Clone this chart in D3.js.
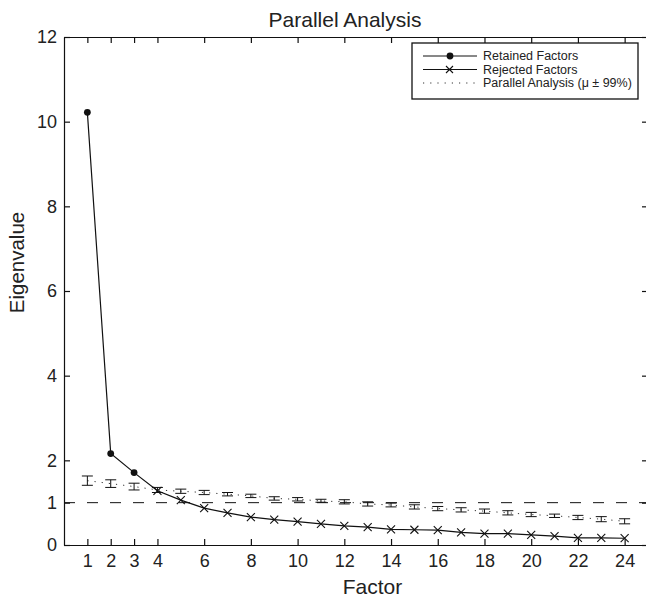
<!DOCTYPE html>
<html><head><meta charset="utf-8">
<script src="https://cdn.jsdelivr.net/npm/d3@7"></script>
<style>
body{margin:0;background:#fff;}
text{font-family:"Liberation Sans",Arial,Helvetica,sans-serif;fill:#222;}
</style></head>
<body><svg id="c" width="646" height="600"></svg>
<script>
const factors = d3.range(1, 25);
const eigenvalues = [10.22,2.16,1.71,1.28,1.06,0.87,0.76,0.66,0.60,0.55,0.50,0.45,0.42,0.37,0.36,0.35,0.30,0.27,0.27,0.24,0.21,0.17,0.17,0.16];
const retainedCount = 3;
const paMean  = [1.52,1.45,1.38,1.30,1.27,1.24,1.20,1.16,1.10,1.08,1.04,1.02,0.97,0.945,0.90,0.86,0.83,0.80,0.76,0.72,0.69,0.65,0.61,0.56];
const paUpper = [1.63,1.54,1.46,1.36,1.32,1.29,1.24,1.20,1.14,1.12,1.08,1.07,1.02,0.99,0.95,0.91,0.88,0.85,0.81,0.77,0.73,0.70,0.67,0.62];
const paLower = [1.41,1.36,1.30,1.24,1.22,1.19,1.16,1.12,1.06,1.04,1.01,0.97,0.92,0.90,0.85,0.81,0.78,0.75,0.71,0.67,0.65,0.60,0.55,0.50];
const xTicks = [1,2,3,4,6,8,10,12,14,16,18,20,22,24];
const yTicks = [0,1,2,4,6,8,10,12];
const threshold = 1;
const legendLabels = ["Retained Factors","Rejected Factors","Parallel Analysis (\u03bc \u00b1 99%)"];

const svg = d3.select("#c");
const L = 64, R = 648, T = 37, B = 545;
const x = d3.scaleLinear().domain([0,25]).range([L,R]);
const y = d3.scaleLinear().domain([0,12]).range([B,T]);

// axes
const ax = svg.append("g");
const styleAxis = g => { g.selectAll("path,line").attr("stroke","#111").attr("stroke-width",1.2); g.selectAll("text").attr("fill","#222").style("font-size","18px").attr("font-family",null); };
ax.append("g").attr("transform",`translate(0,${B})`)
  .call(d3.axisBottom(x).tickValues(xTicks).tickSize(-6).tickSizeOuter(0).tickPadding(9.5).tickFormat(d3.format("d")))
  .call(styleAxis);
ax.append("g").attr("transform",`translate(0,${T})`)
  .call(d3.axisTop(x).tickValues(xTicks).tickSize(-6).tickSizeOuter(0).tickFormat(""))
  .call(styleAxis);
ax.append("g").attr("transform",`translate(${L},0)`)
  .call(d3.axisLeft(y).tickValues(yTicks).tickSize(-6).tickSizeOuter(0).tickPadding(7).tickFormat(d3.format("d")))
  .call(styleAxis);
ax.append("g").attr("transform",`translate(${R},0)`)
  .call(d3.axisRight(y).tickValues(yTicks).tickSize(-6).tickSizeOuter(0).tickFormat(""))
  .call(styleAxis);

// threshold dashed line
svg.append("line").attr("x1",L).attr("x2",R).attr("y1",y(threshold)).attr("y2",y(threshold))
  .attr("stroke","#111").attr("stroke-width",1).attr("stroke-dasharray","11,12");

// parallel analysis dotted line and error bars
const paData = factors.map((f,i)=>({f, m:paMean[i], lo:paLower[i], hi:paUpper[i]}));
svg.append("path").datum(paData)
  .attr("d", d3.line().x(d=>x(d.f)).y(d=>y(d.m)))
  .attr("fill","none").attr("stroke","#333").attr("stroke-width",1).attr("stroke-dasharray","1.2,6");
const eb = svg.append("g").attr("stroke","#111").attr("stroke-width",1);
paData.forEach(d=>{
  eb.append("line").attr("x1",x(d.f)).attr("x2",x(d.f)).attr("y1",y(d.lo)).attr("y2",y(d.hi));
  eb.append("line").attr("x1",x(d.f)-5.5).attr("x2",x(d.f)+5.5).attr("y1",y(d.lo)).attr("y2",y(d.lo));
  eb.append("line").attr("x1",x(d.f)-5.5).attr("x2",x(d.f)+5.5).attr("y1",y(d.hi)).attr("y2",y(d.hi));
});

// eigenvalue line
const eData = factors.map((f,i)=>({f, v:eigenvalues[i], retained: i < retainedCount}));
svg.append("path").datum(eData)
  .attr("d", d3.line().x(d=>x(d.f)).y(d=>y(d.v)))
  .attr("fill","none").attr("stroke","#111").attr("stroke-width",1.2);
svg.selectAll("circle.ret").data(eData.filter(d=>d.retained)).enter().append("circle")
  .attr("cx",d=>x(d.f)).attr("cy",d=>y(d.v)).attr("r",3.4).attr("fill","#111");
const xm = svg.append("g").attr("stroke","#111").attr("stroke-width",1.1);
eData.filter(d=>!d.retained).forEach(d=>{
  const cx=x(d.f), cy=y(d.v), s=4;
  xm.append("path").attr("d",`M${cx-s},${cy-s}L${cx+s},${cy+s}M${cx-s},${cy+s}L${cx+s},${cy-s}`);
});

// title and labels
svg.append("text").attr("x",345).attr("y",26.5).attr("text-anchor","middle").style("font-size","21px").text("Parallel Analysis");
svg.append("text").attr("x",372.5).attr("y",594).attr("text-anchor","middle").style("font-size","21px").text("Factor");
svg.append("text").attr("transform","translate(24,262.5) rotate(-90)").attr("text-anchor","middle").style("font-size","20.5px").text("Eigenvalue");

// legend
const lg = svg.append("g");
lg.append("rect").attr("x",412).attr("y",43).attr("width",226).attr("height",56)
  .attr("fill","#fff").attr("stroke","#111").attr("stroke-width",1.3);
const rows = [56,69.5,83];
rows.forEach((ry,i)=>{
  const ln = lg.append("line").attr("x1",423).attr("x2",477).attr("y1",ry).attr("y2",ry)
    .attr("stroke", i<2 ? "#111" : "#333").attr("stroke-width",1);
  if(i===2) ln.attr("stroke-dasharray","1.2,6");
  if(i===0) lg.append("circle").attr("cx",450).attr("cy",ry).attr("r",3.4).attr("fill","#111");
  if(i===1) lg.append("path").attr("d",`M446,${ry-3.5}L453,${ry+3.5}M446,${ry+3.5}L453,${ry-3.5}`).attr("stroke","#111").attr("stroke-width",1.1);
  lg.append("text").attr("x",483).attr("y",ry+4.4).style("font-size","12.5px").text(legendLabels[i]);
});
</script></body></html>
